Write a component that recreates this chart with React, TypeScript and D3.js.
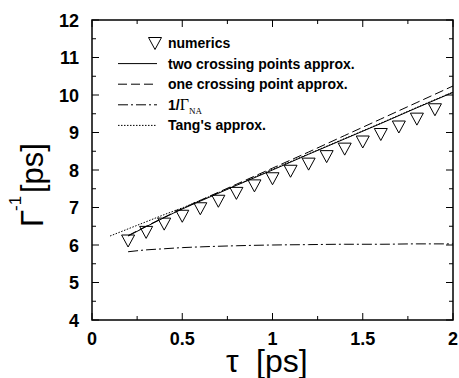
import React, { useEffect, useRef } from "react";
import * as d3 from "d3";

// numerics (triangles)
const numTau = [0.2, 0.3, 0.4, 0.5, 0.6, 0.7, 0.8, 0.9, 1.0, 1.1, 1.2, 1.3, 1.4, 1.5, 1.6, 1.7, 1.8, 1.9];
const numVal = [6.12, 6.35, 6.57, 6.78, 6.98, 7.18, 7.39, 7.59, 7.78, 7.98, 8.17, 8.37, 8.57, 8.76, 8.96, 9.16, 9.37, 9.62];

// two crossing points approx. (solid)
const twoTau = [0.2, 0.3, 0.4, 0.5, 0.6, 0.8, 1.0, 1.2, 1.4, 1.6, 1.8, 2.0];
const twoVal = [6.24, 6.49, 6.73, 6.96, 7.17, 7.59, 8.0, 8.42, 8.83, 9.24, 9.66, 10.07];

// one crossing point approx. (dashed)
const oneTau = [0.2, 0.3, 0.4, 0.5, 0.6, 0.8, 1.0, 1.2, 1.4, 1.6, 1.8, 2.0];
const oneVal = [6.25, 6.5, 6.74, 6.97, 7.19, 7.62, 8.05, 8.48, 8.92, 9.36, 9.8, 10.24];

// 1/Gamma_NA (dash-dot)
const naTau = [0.2, 0.3, 0.4, 0.5, 0.6, 0.8, 1.0, 1.2, 1.4, 1.6, 1.8, 2.0];
const naVal = [5.82, 5.87, 5.9, 5.93, 5.95, 5.98, 6.0, 6.01, 6.02, 6.02, 6.03, 6.03];

// Tang's approx. (dotted)
const tangTau = [0.1, 0.2, 0.3, 0.4, 0.5, 0.6, 0.8, 1.0, 1.2, 1.4, 1.6, 1.8, 2.0];
const tangVal = [6.24, 6.43, 6.62, 6.81, 6.99, 7.19, 7.6, 8.02, 8.43, 8.84, 9.25, 9.67, 10.08];

const xTicks = [0, 0.5, 1, 1.5, 2];
const xTickLabels = ["0", "0.5", "1", "1.5", "2"];
const yTicks = [4, 5, 6, 7, 8, 9, 10, 11, 12];

const legendItems = [
  { key: "numerics", label: "numerics", dash: "" },
  { key: "two", label: "two crossing points approx.", dash: "" },
  { key: "one", label: "one crossing point approx.", dash: "9,4" },
  { key: "na", label: "1/Γ", dash: "10,3,2,3" },
  { key: "tang", label: "Tang's approx.", dash: "1.5,1.5" },
];

const App = () => {
  const ref = useRef(null);

  useEffect(() => {
    const width = 459;
    const height = 378;
    const margin = { top: 20, right: 6, bottom: 58, left: 92 };
    const sans = "'Liberation Sans', Arial, Helvetica, sans-serif";
    const serif = "'Liberation Serif', 'Times New Roman', serif";

    const svg = d3.select(ref.current);
    svg.selectAll("*").remove();
    svg.attr("width", width).attr("height", height);

    const x = d3.scaleLinear().domain([0, 2]).range([margin.left, width - margin.right]);
    const y = d3.scaleLinear().domain([4, 12]).range([height - margin.bottom, margin.top]);
    const x0 = x(0), x1 = x(2), y0 = y(4), y1 = y(12);

    // ticks inward on all four sides
    const g = svg.append("g").attr("stroke", "black").attr("stroke-width", 1);
    d3.range(0, 2.0001, 0.25).forEach((t, i) => {
      const len = i % 2 === 0 ? 7 : 4;
      g.append("line").attr("x1", x(t)).attr("x2", x(t)).attr("y1", y0).attr("y2", y0 - len);
      g.append("line").attr("x1", x(t)).attr("x2", x(t)).attr("y1", y1).attr("y2", y1 + len);
    });
    d3.range(4, 12.0001, 0.5).forEach((t, i) => {
      const len = i % 2 === 0 ? 7 : 4;
      g.append("line").attr("y1", y(t)).attr("y2", y(t)).attr("x1", x0).attr("x2", x0 + len);
      g.append("line").attr("y1", y(t)).attr("y2", y(t)).attr("x1", x1).attr("x2", x1 - len);
    });

    svg.append("rect")
      .attr("x", x0).attr("y", y1).attr("width", x1 - x0).attr("height", y0 - y1)
      .attr("fill", "none").attr("stroke", "black").attr("stroke-width", 1.5);

    // tick labels
    svg.append("g").selectAll("text").data(yTicks).enter().append("text")
      .attr("x", x0 - 13).attr("y", d => y(d) + 6.5)
      .attr("text-anchor", "end")
      .attr("font-family", sans).attr("font-weight", "bold").attr("font-size", 18)
      .text(d => d);
    svg.append("g").selectAll("text").data(xTicks).enter().append("text")
      .attr("x", d => x(d)).attr("y", y0 + 25)
      .attr("text-anchor", "middle")
      .attr("font-family", sans).attr("font-weight", "bold").attr("font-size", 18)
      .text((d, i) => xTickLabels[i]);

    // axis titles
    svg.append("text")
      .attr("x", 226).attr("y", 372)
      .attr("font-family", sans).attr("font-size", 32)
      .text("τ");
    svg.append("text")
      .attr("x", 256).attr("y", 372)
      .attr("font-family", sans).attr("font-size", 32)
      .text("[ps]");

    svg.append("text")
      .attr("transform", "translate(43,227) rotate(-90)")
      .attr("font-family", sans).attr("font-size", 31)
      .text("Γ");
    svg.append("text")
      .attr("transform", "translate(21,211) rotate(-90)")
      .attr("font-family", sans).attr("font-size", 17)
      .text("-1");
    svg.append("text")
      .attr("transform", "translate(43,193) rotate(-90)")
      .attr("font-family", sans).attr("font-size", 31)
      .text("[ps]");

    // curves
    const line = d3.line().x(d => x(d[0])).y(d => y(d[1])).curve(d3.curveMonotoneX);
    const curves = [
      { t: twoTau, v: twoVal, dash: "" },
      { t: oneTau, v: oneVal, dash: "9,4" },
      { t: naTau, v: naVal, dash: "10,3,2,3" },
      { t: tangTau, v: tangVal, dash: "1.5,1.5" },
    ];
    curves.forEach(c => {
      svg.append("path")
        .datum(c.t.map((t, i) => [t, c.v[i]]))
        .attr("d", line)
        .attr("fill", "none").attr("stroke", "black").attr("stroke-width", 1)
        .attr("stroke-dasharray", c.dash || null);
    });

    // triangles (open, pointing down)
    const tri = (cx, cy) => `M${cx - 6.5},${cy - 5.5}L${cx + 6.5},${cy - 5.5}L${cx},${cy + 6.5}Z`;
    svg.append("g").selectAll("path").data(numTau).enter().append("path")
      .attr("d", (d, i) => tri(x(d), y(numVal[i])))
      .attr("fill", "none").attr("stroke", "black").attr("stroke-width", 1);

    // legend
    const lx = 168;
    legendItems.forEach((it, i) => {
      const cy = 43 + i * 20.6;
      if (it.key === "numerics") {
        svg.append("path").attr("d", tri(155, cy)).attr("fill", "none").attr("stroke", "black");
      } else {
        svg.append("line")
          .attr("x1", 118).attr("x2", 157).attr("y1", cy).attr("y2", cy)
          .attr("stroke", "black").attr("stroke-width", 1)
          .attr("stroke-dasharray", it.dash || null);
      }
      const t = svg.append("text")
        .attr("x", lx).attr("y", cy + 5)
        .attr("font-family", sans).attr("font-weight", "bold").attr("font-size", 14);
      if (it.key === "na") {
        t.append("tspan").text("1/");
        t.append("tspan").attr("font-family", serif)
          .attr("font-weight", "normal").attr("font-size", 16).text("Γ");
        t.append("tspan").attr("font-family", serif)
          .attr("font-weight", "normal").attr("font-size", 9).attr("dy", 4).text("NA");
      } else {
        t.text(it.label);
      }
    });
  }, []);

  return <svg ref={ref} style={{ position: "absolute", left: 0, top: 0 }}></svg>;
};

export default App;
